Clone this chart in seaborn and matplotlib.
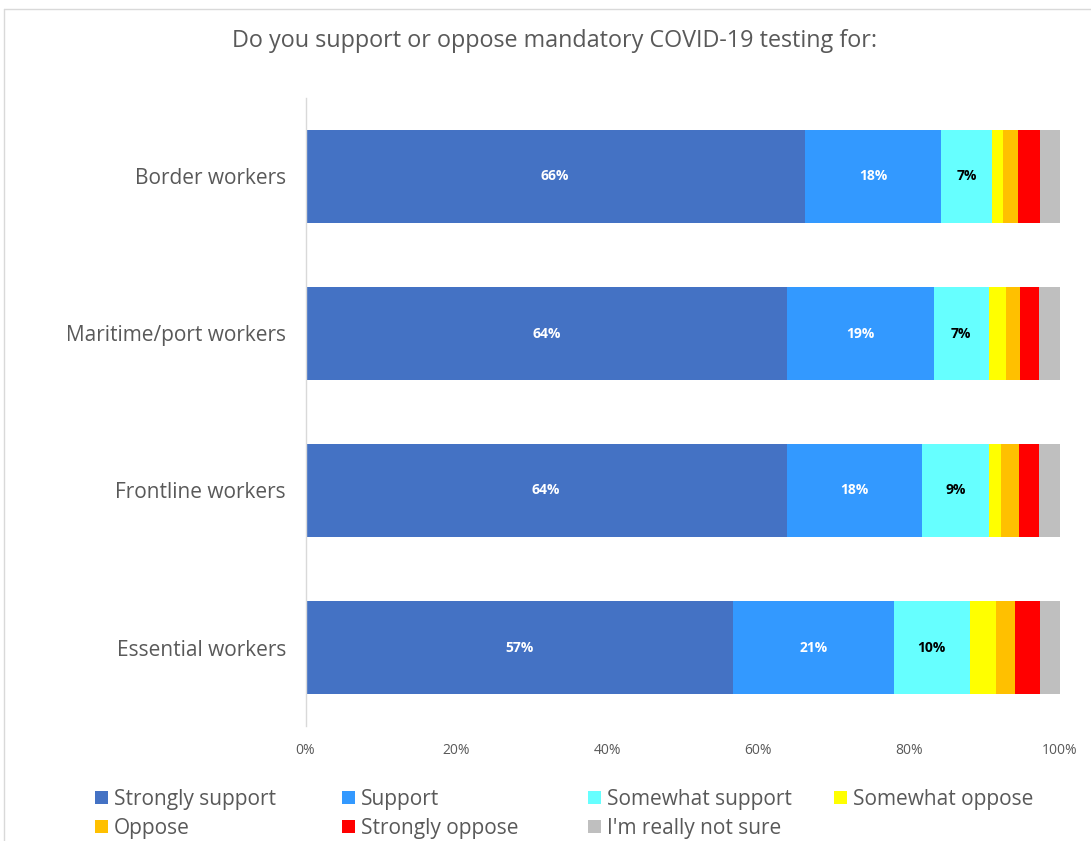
import matplotlib
matplotlib.use("Agg")
import matplotlib.pyplot as plt
import seaborn as sns
import numpy as np
import pandas as pd
from matplotlib.patches import Patch
from matplotlib.lines import Line2D

categories = ["Border workers", "Maritime/port workers", "Frontline workers", "Essential workers"]
series_names = ["Strongly support", "Support", "Somewhat support", "Somewhat oppose",
                "Oppose", "Strongly oppose", "I'm really not sure"]
strongly_support = [66.2, 63.9, 63.8, 56.7]
support = [18.1, 19.4, 18.0, 21.3]
somewhat_support = [6.8, 7.3, 8.8, 10.1]
somewhat_oppose = [1.4, 2.3, 1.7, 3.5]
oppose = [2.0, 1.9, 2.3, 2.5]
strongly_oppose = [2.9, 2.5, 2.7, 3.3]
not_sure = [2.6, 2.7, 2.7, 2.6]
colors = ["#4472C4", "#3399FF", "#66FFFF", "#FFFF00", "#FFC000", "#FF0000", "#BFBFBF"]
label_colors = ["white", "white", "black"]
xticks = [0, 20, 40, 60, 80, 100]

series = [strongly_support, support, somewhat_support, somewhat_oppose,
          oppose, strongly_oppose, not_sure]

sns.set_theme(style="white")
plt.rcParams['font.family'] = ['Open Sans', 'DejaVu Sans']

fig = plt.figure(figsize=(10.91, 8.41), dpi=100)
ax = fig.add_axes([305.5/1091, 1-726/841, 754/1091, 628/841])

vals = np.array(series)
cum = np.cumsum(vals, axis=0)
# draw cumulative bars from the largest to smallest for stacking
for i in range(len(series) - 1, -1, -1):
    df = pd.DataFrame({"cat": categories, "val": cum[i]})
    sns.barplot(data=df, y="cat", x="val", color=colors[i], orient="h",
                width=0.59, ax=ax, saturation=1, linewidth=0, order=categories)

# data labels for first three series
for i in range(3):
    for j, cat in enumerate(categories):
        left = cum[i][j] - vals[i][j]
        cx = left + vals[i][j] / 2
        ax.text(cx, j, f"{round(vals[i][j]):d}%", ha="center", va="center",
                color=label_colors[i], fontsize=10, fontweight="bold")

ax.set_xlim(0, 100)
ax.set_ylim(3.5, -0.5)
ax.set_xticks(xticks)
ax.set_xticklabels([f"{t}%" for t in xticks], color="#595959", fontsize=10)
ax.tick_params(axis="x", length=0, pad=12)
ax.tick_params(axis="y", length=0, pad=14, labelsize=15, labelcolor="#595959")
ax.set_xlabel("")
ax.set_ylabel("")
for s in ["top", "right", "bottom"]:
    ax.spines[s].set_visible(False)
ax.spines["left"].set_color("#D9D9D9")
ax.spines["left"].set_linewidth(1)

fig.text(555/1091, 1-41/841, "Do you support or oppose mandatory COVID-19 testing for:",
         ha="center", va="center", fontsize=16.8, color="#595959")

# legend in 4 columns
col_x = [95, 342, 588, 834]
cols = [[0, 4], [1, 5], [2, 6], [3]]
for cx, idxs in zip(col_x, cols):
    handles = [Patch(facecolor=colors[k], edgecolor="none") for k in idxs]
    labels = [series_names[k] for k in idxs]
    fig.legend(handles, labels, loc="upper left", bbox_to_anchor=(cx/1091, 1-789/841),
               frameon=False, fontsize=15, labelcolor="#595959", handlelength=0.6,
               handleheight=0.6, handletextpad=0.3, labelspacing=0.38,
               borderaxespad=0, borderpad=0)

# outer chart border (top and left visible)
fig.add_artist(Line2D([4/1091, 1], [1-9/841, 1-9/841], color="#D9D9D9", lw=1))
fig.add_artist(Line2D([4/1091, 4/1091], [0, 1-9/841], color="#D9D9D9", lw=1))

fig.savefig("out.png", dpi=100)
